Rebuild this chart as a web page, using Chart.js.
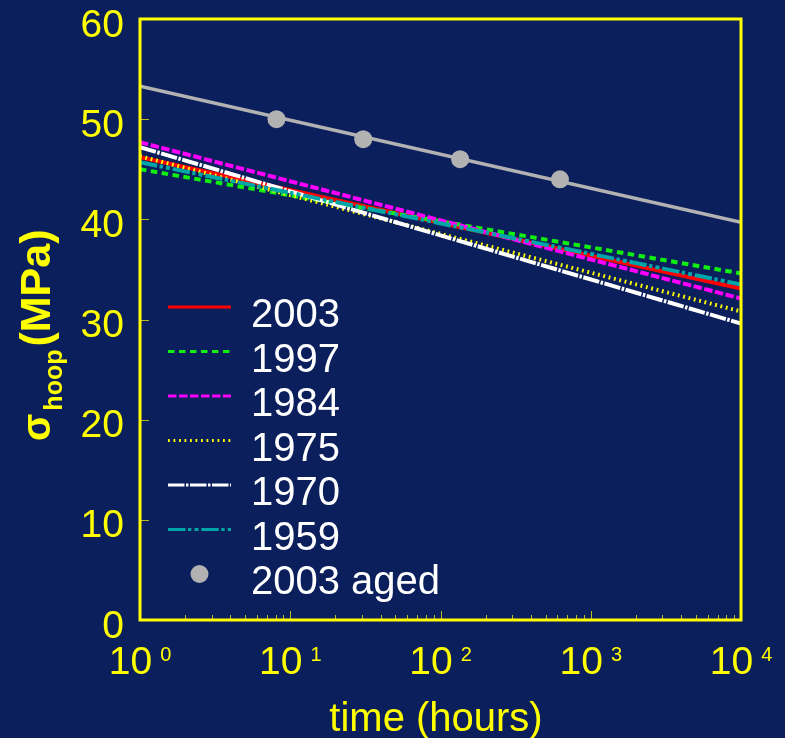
<!DOCTYPE html>
<html>
<head>
<meta charset="utf-8">
<script src="https://cdn.jsdelivr.net/npm/chart.js@4.4.0/dist/chart.umd.min.js"></script>
<style>
  html, body { margin: 0; padding: 0; background: #0b1f5c; }
  #wrap { width: 785px; height: 738px; position: relative; }
</style>
</head>
<body>
<div id="wrap"><canvas id="c"></canvas></div>
<script>
// Hoop stress versus time (log scale) for pipe resins of different years
const timeHours = [1, 10000];
const hoop2003 = [46.2, 33.1];
const hoop1997 = [45.0, 34.6];
const hoop1984 = [47.7, 32.1];
const hoop1975 = [46.3, 30.8];
const hoop1970 = [47.2, 29.6];
const hoop1959 = [45.7, 33.5];
const agedFit = [53.3, 39.7];
const agedTimes = [8.1, 30.6, 135, 624];
const agedHoop = [50, 48, 46, 44];
const seriesLabels = ['2003', '1997', '1984', '1975', '1970', '1959', '2003 aged'];
const xTickPowers = [0, 1, 2, 3, 4];
const yTickValues = [0, 10, 20, 30, 40, 50, 60];

const FONT = '"Liberation Sans", Arial, Helvetica, sans-serif';
const YELLOW = '#ffff00';
const GREY = '#b2b2b2';

function pts(xs, ys) { return xs.map((x, i) => ({ x: x, y: ys[i] })); }

const lineStyles = [
  { color: '#ff0000', dash: [] },
  { color: '#11ee11', dash: [6.5, 4.5] },
  { color: '#ff00ff', dash: [8.5, 2.5] },
  { color: '#ffff00', dash: [1.8, 3.7] },
  { color: '#ffffff', dash: [16.5, 1.5, 2.5, 1.5] },
  { color: '#00a5a8', dash: [17.5, 2.5, 3.3, 3.2, 4, 2.8] }
];
const lineData = [hoop2003, hoop1997, hoop1984, hoop1975, hoop1970, hoop1959];

const datasets = lineData.map((vals, i) => ({
  label: seriesLabels[i],
  data: pts(timeHours, vals),
  borderColor: lineStyles[i].color,
  backgroundColor: lineStyles[i].color,
  borderDash: lineStyles[i].dash,
  borderWidth: 4,
  borderCapStyle: 'butt',
  pointRadius: 0,
  fill: false,
  order: 20 - i
}));
datasets.push({
  label: 'fit',
  data: pts(timeHours, agedFit),
  borderColor: GREY,
  borderWidth: 3.5,
  pointRadius: 0,
  fill: false,
  order: 2
});
datasets.push({
  label: seriesLabels[6],
  data: pts(agedTimes, agedHoop),
  showLine: false,
  pointRadius: 9,
  pointHoverRadius: 9,
  pointBackgroundColor: GREY,
  pointBorderWidth: 0,
  borderColor: GREY,
  order: 1
});

const decorations = {
  id: 'decorations',
  afterDatasetsDraw(chart) {
    const ctx = chart.ctx;
    const a = chart.chartArea;
    const xs = chart.scales.x, ys = chart.scales.y;
    ctx.save();

    // minor and major ticks on the x axis
    ctx.strokeStyle = 'rgba(255,255,0,0.7)';
    ctx.lineWidth = 1;
    for (let p = 0; p < 4; p++) {
      for (let m = 2; m <= 9; m++) {
        const px = Math.round(xs.getPixelForValue(m * Math.pow(10, p))) + 0.5;
        ctx.beginPath(); ctx.moveTo(px, a.bottom); ctx.lineTo(px, a.bottom - 5); ctx.stroke();
      }
    }
    xTickPowers.forEach(p => {
      const px = Math.round(xs.getPixelForValue(Math.pow(10, p))) + 0.5;
      ctx.beginPath(); ctx.moveTo(px, a.bottom); ctx.lineTo(px, a.bottom - 9); ctx.stroke();
    });
    // ticks on the y axis
    yTickValues.forEach(v => {
      const py = Math.round(ys.getPixelForValue(v)) + 0.5;
      ctx.beginPath(); ctx.moveTo(a.left, py); ctx.lineTo(a.left + 9, py); ctx.stroke();
    });

    // frame
    ctx.strokeStyle = YELLOW;
    ctx.lineWidth = 3;
    ctx.strokeRect(a.left, a.top, a.right - a.left, a.bottom - a.top);

    // y tick labels
    ctx.fillStyle = YELLOW;
    ctx.font = '39px ' + FONT;
    ctx.textAlign = 'right';
    ctx.textBaseline = 'alphabetic';
    yTickValues.forEach(v => {
      ctx.fillText(String(v), a.left - 16, ys.getPixelForValue(v) + 17.5);
    });

    // x tick labels: 10 with superscript exponent
    xTickPowers.forEach(p => {
      const px = xs.getPixelForValue(Math.pow(10, p));
      ctx.font = '39px ' + FONT;
      const wBase = ctx.measureText('10').width;
      ctx.font = '20px ' + FONT;
      const wExp = ctx.measureText(String(p)).width;
      const gap = 8;
      const start = px - (wBase + gap + wExp) / 2;
      ctx.textAlign = 'left';
      ctx.font = '39px ' + FONT;
      ctx.fillText('10', start, 674);
      ctx.font = '20px ' + FONT;
      ctx.fillText(String(p), start + wBase + gap, 661);
    });

    // x axis title
    ctx.font = '40px ' + FONT;
    ctx.textAlign = 'center';
    ctx.fillText('time (hours)', 436, 731);

    // y axis title: sigma with subscript "hoop" and (MPa)
    ctx.save();
    ctx.translate(50, 441);
    ctx.rotate(-Math.PI / 2);
    ctx.textAlign = 'left';
    ctx.font = 'bold 40px ' + FONT;
    ctx.fillText('σ', 0, 0);
    let off = ctx.measureText('σ').width + 3;
    ctx.font = 'bold 25px ' + FONT;
    ctx.fillText('hoop', off, 12);
    off += ctx.measureText('hoop').width + 3;
    ctx.font = 'bold 43px ' + FONT;
    ctx.fillText('(MPa)', off, 0);
    ctx.restore();

    // legend
    const lx0 = a.left + 28, lx1 = a.left + 91, tx = a.left + 111;
    ctx.font = '40px ' + FONT;
    ctx.textAlign = 'left';
    for (let i = 0; i < 7; i++) {
      const y = a.top + 288 + i * 44.5;
      if (i < 6) {
        ctx.strokeStyle = lineStyles[i].color;
        ctx.lineWidth = 3;
        ctx.lineCap = 'butt';
        ctx.setLineDash(lineStyles[i].dash);
        ctx.beginPath(); ctx.moveTo(lx0, y); ctx.lineTo(lx1, y); ctx.stroke();
        ctx.setLineDash([]);
      } else {
        ctx.fillStyle = GREY;
        ctx.beginPath(); ctx.arc((lx0 + lx1) / 2, y, 9, 0, Math.PI * 2); ctx.fill();
      }
      ctx.fillStyle = '#ffffff';
      ctx.fillText(seriesLabels[i], tx, y + 20);
    }
    ctx.restore();
  }
};

new Chart(document.getElementById('c'), {
  type: 'line',
  data: { datasets: datasets },
  options: {
    responsive: true,
    maintainAspectRatio: false,
    animation: false,
    layout: { padding: { left: 0, top: 19, right: 44, bottom: 0 } },
    plugins: { legend: { display: false }, tooltip: { enabled: false } },
    scales: {
      x: {
        type: 'logarithmic',
        min: 1, max: 10000,
        ticks: { display: false },
        grid: { display: false },
        border: { display: false },
        afterFit(s) { s.height = 118; }
      },
      y: {
        type: 'linear',
        min: 0, max: 60,
        ticks: { display: false, stepSize: 10 },
        grid: { display: false },
        border: { display: false },
        afterFit(s) { s.width = 140; }
      }
    }
  },
  plugins: [decorations]
});
</script>
</body>
</html>
